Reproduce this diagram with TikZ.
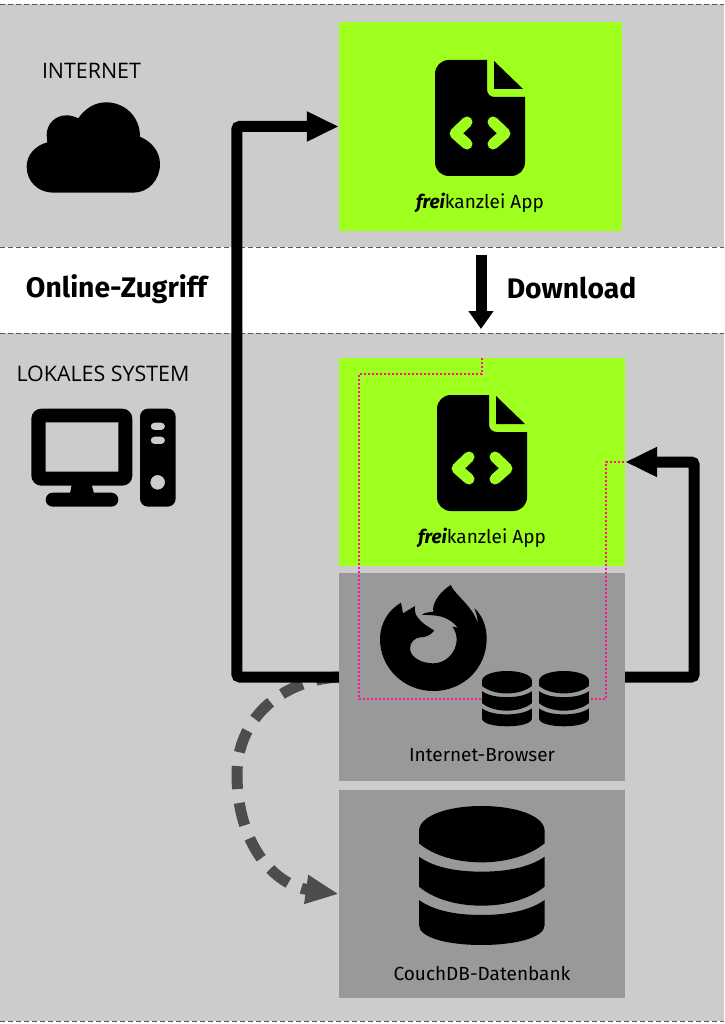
\documentclass[tikz,border=0pt]{standalone}
\usepackage{fontspec}
\usetikzlibrary{arrows.meta}
\setmainfont{Open Sans}
\newfontfamily\lab{Fira Sans}
\definecolor{bandgray}{HTML}{CCCCCC}
\definecolor{boxgray}{HTML}{999999}
\definecolor{appgreen}{HTML}{9FFF1E}
\definecolor{dashgray}{HTML}{4D4D4D}
\definecolor{dotpink}{HTML}{FF1493}
\tikzset{
  x=1pt,y=-1pt,
  appbox/.style={fill=appgreen,inner sep=0pt,minimum width=286pt,minimum height=208pt},
  greybox/.style={fill=boxgray,inner sep=0pt,minimum width=286pt,minimum height=208pt},
  bandline/.style={draw=black!65,line width=0.9pt,dash pattern=on 5pt off 3pt},
  flow/.style={draw=black,line width=11pt,rounded corners=3pt,-{Triangle[length=32pt,width=28pt]}},
  dashflow/.style={draw=dashgray,line width=11pt,dash pattern=on 23pt off 14pt,-{Triangle[length=33pt,width=27pt]}},
  dlflow/.style={draw=black,line width=11pt,-{Triangle[length=18pt,width=24pt]}},
  trail/.style={draw=dotpink,line width=2.3pt,dash pattern=on 2pt off 2pt},
  biglabel/.style={font=\lab\bfseries\fontsize{28.3}{32}\selectfont,text=black,inner sep=0pt},
  zonelabel/.style={font=\fontsize{21.4}{25}\selectfont,text=black,inner sep=0pt},
  boxlabel/.style={font=\lab\fontsize{19}{22}\selectfont,text=black,inner sep=0pt},
}
\newcommand{\fileicon}[2]{%
  \begin{scope}[shift={(#1,#2)}]
    \fill[black] (14,0) -- (52,0) -- (52,29) .. controls (52,34) and (55,37) .. (60,37) -- (90,37) -- (90,102)
      .. controls (90,110) and (84,116) .. (76,116) -- (14,116) .. controls (6,116) and (0,110) .. (0,102)
      -- (0,14) .. controls (0,6) and (6,0) .. (14,0) -- cycle;
    \fill[black] (59,1) -- (88,29) -- (59,29) -- cycle;
    \draw[appgreen,line width=11pt,line cap=round,line join=round] (32,62) -- (20,73.5) -- (32,84);
    \draw[appgreen,line width=11pt,line cap=round,line join=round] (58,62) -- (70,73.5) -- (58,84);
  \end{scope}}
\newcommand{\dbicon}[3]{%
  \begin{scope}[shift={(#1,#2)},scale=#3]
    \fill[black] (0,75) .. controls (0,30) and (85,0) .. (188,0) .. controls (292,0) and (377,30) .. (377,75) -- (377,112)
      .. controls (330,150) and (260,169) .. (188,169) .. controls (115,169) and (45,150) .. (0,112) -- cycle;
    \fill[black] (0,152) .. controls (45,185) and (115,197) .. (188,197) .. controls (260,197) and (330,185) .. (377,152) -- (377,242)
      .. controls (330,280) and (260,299) .. (188,299) .. controls (115,299) and (45,280) .. (0,242) -- cycle;
    \fill[black] (0,282) .. controls (45,315) and (115,327) .. (188,327) .. controls (260,327) and (330,315) .. (377,282) -- (377,357)
      .. controls (377,395) and (290,417) .. (188,417) .. controls (85,417) and (0,395) .. (0,357) -- cycle;
  \end{scope}}
\newcommand{\freiname}{{\bfseries\itshape frei}kanzlei App}
\begin{document}
\begin{tikzpicture}
\useasboundingbox (0,0) rectangle (724,1024);
\fill[white] (0,0) rectangle (724,1024);
\fill[bandgray] (0,4) rectangle (724,247);
\fill[bandgray] (0,333) rectangle (724,1021);
\foreach \yy in {4,247,333,1021} \draw[bandline] (0,\yy) -- (724,\yy);

\node[appbox,minimum width=283pt,minimum height=209pt] (app1) at (480.5,126.5) {};
\node[appbox] (app2) at (482,462) {};
\node[greybox] (browser) at (482,677) {};
\node[greybox] (db) at (482,894) {};

% dotted trail
\coordinate (t1) at (482,358);
\coordinate (t2) at (359,374);
\coordinate (t3) at (606,699);
\draw[trail] (t1) -- (482,374) -- (t2) -- (359,699) -- (t3) -- (606,462) -- (app2.east);
\fill[boxgray] (482,671) rectangle (589,726);

% cloud
\begin{scope}[scale=1/3]
\fill[black] (160,578) -- (400,578) .. controls (445,578) and (480,540) .. (480,492) .. controls (480,455) and (455,425) .. (420,410)
  .. controls (420,350) and (375,307) .. (318,307) .. controls (285,307) and (255,325) .. (235,355)
  .. controls (225,350) and (212,346) .. (200,346) .. controls (165,346) and (140,372) .. (140,405)
  -- (142,427) .. controls (105,437) and (80,465) .. (80,500) .. controls (80,545) and (115,578) .. (160,578) -- cycle;
\end{scope}

% computer
\begin{scope}[shift={(0,350)},scale=1/3]
\fill[black,even odd rule] [rounded corners=10pt] (94,176) rectangle (397,407) [sharp corners] (137,217) rectangle (355,365);
\fill[black] (215,405) -- (210,430) -- (282,430) -- (275,405) -- cycle;
\fill[black,rounded corners=7pt] (137,428) rectangle (355,470);
\fill[black,even odd rule] [rounded corners=8pt] (420,176) rectangle (527,470) [rounded corners=3.6pt] (452,218) rectangle (495,240) (452,260) rectangle (495,282) [sharp corners] (473,397) circle (22);
\end{scope}

\fileicon{435}{60}
\fileicon{437}{395}

% firefox
\begin{scope}[shift={(375,580)},scale=1/3]
\fill[black] (227,15) .. controls (240,45) and (290,75) .. (308,128) .. controls (308,110) and (303,97) .. (298,85)
  .. controls (322,105) and (335,140) .. (335,175) .. controls (335,265) and (265,333) .. (175,333)
  .. controls (85,333) and (15,262) .. (15,178) .. controls (15,130) and (40,90) .. (78,68)
  -- (84,100) -- (120,78) .. controls (118,95) and (122,105) .. (128,112) .. controls (140,130) and (160,140) .. (178,152)
  .. controls (165,168) and (150,172) .. (135,172) .. controls (118,174) and (105,188) .. (105,205)
  .. controls (105,232) and (140,250) .. (175,250) .. controls (215,250) and (245,215) .. (245,178)
  .. controls (245,165) and (240,150) .. (232,140) -- (248,143) .. controls (235,125) and (210,108) .. (175,106)
  .. controls (160,105) and (150,105) .. (140,104) .. controls (150,98) and (162,96) .. (175,95)
  .. controls (170,70) and (195,35) .. (227,15) -- cycle;
\end{scope}

\dbicon{482}{671}{0.1326}
\dbicon{539}{671}{0.1326}
\dbicon{419}{806}{0.3333}

% labels
\node[zonelabel] (zi) at (91.5,71) {INTERNET};
\node[zonelabel] (zl) at (103,374) {LOKALES SYSTEM};
\node[biglabel] (on) at (116.5,289.5) {Online-Zugriff};
\node[biglabel] (dl) at (571.5,287.5) {Download};
\node[boxlabel] (l1) at (480,203) {\freiname};
\node[boxlabel] (l2) at (482,538) {\freiname};
\node[boxlabel] (l3) at (482,755) {Internet-Browser};
\node[boxlabel] (l4) at (482,973) {CouchDB-Datenbank};

% connectors
\coordinate (dlstart) at (481,255);
\coordinate (dlend) at (481,329);
\draw[dashflow] (browser.west) .. controls (280,680) and (237,720) .. (237,774) .. controls (237,845) and (275,885) .. (db.west);
\draw[flow] (browser.west) -- ++(-102,0) |- (app1.west);
\draw[flow] (browser.east) -- ++(69,0) |- (app2.east);
\draw[dlflow] (dlstart) -- (dlend);
\end{tikzpicture}
\end{document}
